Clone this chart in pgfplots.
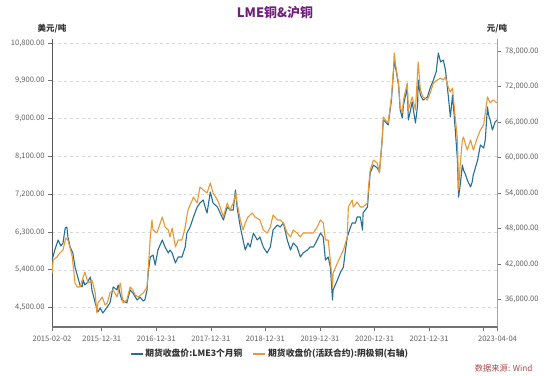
\documentclass[border=0pt]{standalone}
\usepackage{pgfplots}
\pgfplotsset{compat=1.18}
\usepackage{pgfplotstable}
\usepackage{fontspec}
\setmainfont{Noto Sans CJK SC}
\definecolor{lmeblue}{RGB}{38,110,150}
\definecolor{shforange}{RGB}{232,152,52}
\definecolor{ticktext}{RGB}{95,95,95}
\definecolor{titlepurple}{RGB}{112,32,122}
\definecolor{srcred}{RGB}{175,70,70}
\definecolor{unittext}{RGB}{50,50,50}

\pgfplotstableread{
x y
2015.09 5633
2015.14 5872
2015.20 6110
2015.25 5967
2015.29 6038
2015.33 6395
2015.36 6419
2015.38 6181
2015.42 5943
2015.47 5800
2015.51 5467
2015.56 5229
2015.60 5038
2015.64 4991
2015.66 5157
2015.69 5038
2015.73 5086
2015.79 5229
2015.82 4919
2015.88 4610
2015.93 4395
2015.97 4491
2016.02 4371
2016.10 4514
2016.15 4610
2016.21 4991
2016.28 4919
2016.30 5038
2016.34 4800
2016.37 4681
2016.43 4633
2016.46 4610
2016.52 4919
2016.57 4848
2016.65 4681
2016.70 4753
2016.76 4657
2016.79 4681
2016.83 4919
2016.85 5324
2016.89 5705
2016.94 5752
2016.98 5514
2017.03 5872
2017.11 6110
2017.16 5943
2017.22 5800
2017.25 5872
2017.29 5800
2017.35 5562
2017.40 5705
2017.47 5705
2017.53 5943
2017.56 6276
2017.62 6419
2017.68 6657
2017.75 6895
2017.80 6991
2017.86 7062
2017.90 6872
2017.93 6753
2017.99 7252
2018.04 6991
2018.12 6895
2018.17 6753
2018.23 6586
2018.30 6895
2018.35 6824
2018.41 6824
2018.45 7300
2018.48 6895
2018.54 6419
2018.59 6110
2018.63 5872
2018.68 6038
2018.72 5943
2018.78 6276
2018.85 6110
2018.90 6181
2018.96 5943
2019.03 5800
2019.09 5943
2019.14 6348
2019.22 6467
2019.27 6419
2019.33 6514
2019.40 6110
2019.46 5872
2019.51 6038
2019.58 5943
2019.64 5705
2019.69 5800
2019.77 5872
2019.82 5943
2019.88 5943
2019.95 6110
2020.01 6276
2020.06 6181
2020.10 5633
2020.15 5705
2020.19 5467
2020.23 4681
2020.24 4919
2020.32 5157
2020.37 5324
2020.43 5467
2020.46 5800
2020.50 6181
2020.56 6419
2020.59 6514
2020.65 6514
2020.68 6657
2020.74 6657
2020.78 6348
2020.79 6753
2020.87 6895
2020.89 7229
2020.92 7705
2020.98 7895
2021.05 7824
2021.09 7729
2021.14 8491
2021.16 8967
2021.20 8919
2021.25 8848
2021.31 9443
2021.35 10157
2021.36 10395
2021.40 10110
2021.44 9800
2021.47 9205
2021.51 9014
2021.53 9324
2021.60 9729
2021.62 8967
2021.66 9205
2021.69 9395
2021.75 8895
2021.79 9324
2021.80 9919
2021.84 9562
2021.89 9443
2021.97 9514
2022.02 9729
2022.08 9919
2022.13 10110
2022.17 10562
2022.21 10348
2022.26 10395
2022.30 10157
2022.35 9562
2022.39 9038
2022.43 9562
2022.48 8729
2022.52 8014
2022.54 7133
2022.57 7419
2022.61 7895
2022.63 7776
2022.67 7657
2022.70 7538
2022.76 7372
2022.79 7491
2022.81 7657
2022.89 8014
2022.94 8371
2023.00 8300
2023.03 8491
2023.07 9276
2023.09 9086
2023.12 8967
2023.16 8729
2023.21 8919
2023.25 8967
}\lmedata

\pgfplotstableread{
x y
2015.09 40482
2015.11 42679
2015.18 43186
2015.23 43862
2015.29 44369
2015.34 46397
2015.38 46059
2015.42 44707
2015.46 43186
2015.51 38792
2015.55 38116
2015.60 38116
2015.66 39806
2015.69 40651
2015.75 38792
2015.82 39299
2015.88 37102
2015.91 33722
2015.93 35412
2016.01 36426
2016.06 35074
2016.10 35412
2016.15 37102
2016.21 37609
2016.28 36426
2016.34 38792
2016.39 35412
2016.46 35919
2016.52 38116
2016.57 37609
2016.61 36764
2016.67 36426
2016.76 37102
2016.83 38116
2016.85 40989
2016.89 46566
2016.92 49439
2016.94 47749
2017.01 47242
2017.11 49946
2017.16 48256
2017.22 47749
2017.25 46566
2017.29 48087
2017.35 44876
2017.40 46059
2017.47 46059
2017.53 48256
2017.58 51129
2017.66 52819
2017.68 53326
2017.75 52312
2017.80 55016
2017.86 54509
2017.93 54002
2017.99 55692
2018.04 54002
2018.12 52819
2018.17 51636
2018.23 49946
2018.30 52312
2018.35 51129
2018.41 52312
2018.46 54002
2018.48 52312
2018.54 49439
2018.59 47749
2018.63 48932
2018.68 49946
2018.76 50622
2018.81 49946
2018.90 49439
2018.96 47749
2019.03 47242
2019.09 48256
2019.14 50284
2019.22 49439
2019.27 49439
2019.33 48932
2019.40 47242
2019.46 46566
2019.51 47749
2019.58 47242
2019.64 46566
2019.69 47242
2019.77 47242
2019.82 47242
2019.88 47242
2019.95 48256
2020.01 49439
2020.06 48932
2020.10 46059
2020.15 46059
2020.19 42679
2020.23 38116
2020.24 40482
2020.32 42172
2020.37 43186
2020.43 44369
2020.50 46566
2020.52 51636
2020.59 52819
2020.61 51636
2020.68 52481
2020.74 51636
2020.79 51636
2020.87 52312
2020.89 55016
2020.92 57889
2020.98 59579
2021.05 59072
2021.09 57382
2021.14 62959
2021.16 66846
2021.20 66339
2021.25 65832
2021.31 70226
2021.35 75296
2021.36 77662
2021.40 74789
2021.44 72592
2021.47 68536
2021.51 67522
2021.53 69719
2021.60 72592
2021.62 68029
2021.69 70226
2021.75 68029
2021.80 76141
2021.84 71409
2021.89 70226
2021.97 69719
2022.02 70902
2022.08 72592
2022.15 73099
2022.21 73437
2022.26 73099
2022.30 73606
2022.35 71916
2022.39 71071
2022.43 71747
2022.48 66677
2022.52 62959
2022.54 54509
2022.57 58734
2022.61 62959
2022.63 63466
2022.67 62114
2022.70 61269
2022.76 62959
2022.81 61269
2022.89 63466
2022.94 64649
2023.00 65494
2023.07 70226
2023.12 69212
2023.17 69719
2023.25 69212
}\shfedata

\begin{document}
\begin{tikzpicture}
\path[use as bounding box] (0bp,0bp) rectangle (550bp,376bp);
\begin{axis}[
  at={(52bp,49bp)}, anchor=south west,
  scale only axis, width=445.5bp, height=288bp,
  xmin=2015.088, xmax=2023.254,
  ymin=4038, ymax=10895,
  axis y line*=left, axis x line*=bottom,
  x axis line style={draw=black!55, line width=1.6bp},
  y axis line style={draw=black!65, line width=0.8bp},
  scaled x ticks=false, scaled y ticks=false,
  xtick={2015.088,2016.0,2017.0,2018.0,2019.0,2020.0,2021.0,2022.0,2023.0,2023.254},
  xticklabels={2015-02-02,2015-12-31,2016-12-31,2017-12-31,2018-12-31,2019-12-31,2020-12-31,2021-12-31,,2023-04-04},
  ytick={4500,5400,6300,7200,8100,9000,9900,10800},
  tick align=outside, major tick length=4bp,
  every tick/.style={draw=black!55, line width=0.6bp},
  tick label style={font=\fontsize{7.6}{9}\selectfont, text=ticktext},
  xticklabel style={yshift=-1bp},
  /pgf/number format/assume math mode=true,
  yticklabel={\pgfmathprintnumber[fixed,fixed zerofill,precision=2,1000 sep={,},assume math mode=true]{\tick}},
  ymajorgrids, grid style={dashed, draw=black!15, line width=0.5bp},
  legend style={at={(0.489,-0.093)}, anchor=center, draw=none, fill=none,
    legend columns=2, font=\fontsize{8.8}{10}\selectfont\bfseries, text=unittext,
    /tikz/every even column/.append style={column sep=8bp}},
  legend image code/.code={\draw[#1] (0bp,0bp) -- (12bp,0bp);},
]
\addplot[lmeblue, line width=1.1bp, no markers, line join=round, forget plot] table[x=x,y=y] {\lmedata};
\addlegendimage{lmeblue, line width=1.8bp}
\addlegendentry{期货收盘价:LME3个月铜}
\addlegendimage{shforange, line width=1.8bp}
\addlegendentry{期货收盘价(活跃合约):阴极铜(右轴)}
\end{axis}
\begin{axis}[
  at={(52bp,49bp)}, anchor=south west,
  scale only axis, width=445.5bp, height=288bp,
  xmin=2015.088, xmax=2023.254,
  ymin=31356, ymax=80028,
  axis y line*=right, axis x line=none,
  y axis line style={draw=black!35, line width=1.2bp},
  scaled y ticks=false,
  ytick={36000,42000,48000,54000,60000,66000,72000,78000},
  tick align=outside, major tick length=4bp,
  every tick/.style={draw=black!55, line width=0.6bp},
  tick label style={font=\fontsize{7.6}{9}\selectfont, text=ticktext},
  yticklabel={\pgfmathprintnumber[fixed,fixed zerofill,precision=2,1000 sep={,},assume math mode=true]{\tick}},
]
\addplot[shforange, line width=1.1bp, no markers, line join=round] table[x=x,y=y] {\shfedata};
\end{axis}
\node[font=\fontsize{13}{15}\selectfont\bfseries, text=titlepurple] at (275bp,363bp) {LME铜\&沪铜};
\node[font=\fontsize{8.5}{10}\selectfont\bfseries, text=unittext] at (52bp,347bp) {美元/吨};
\node[font=\fontsize{8.5}{10}\selectfont\bfseries, text=unittext] at (497bp,347bp) {元/吨};
\node[font=\fontsize{8.3}{10}\selectfont, text=srcred, anchor=east] at (536bp,8bp) {数据来源: Wind};
\end{tikzpicture}
\end{document}
